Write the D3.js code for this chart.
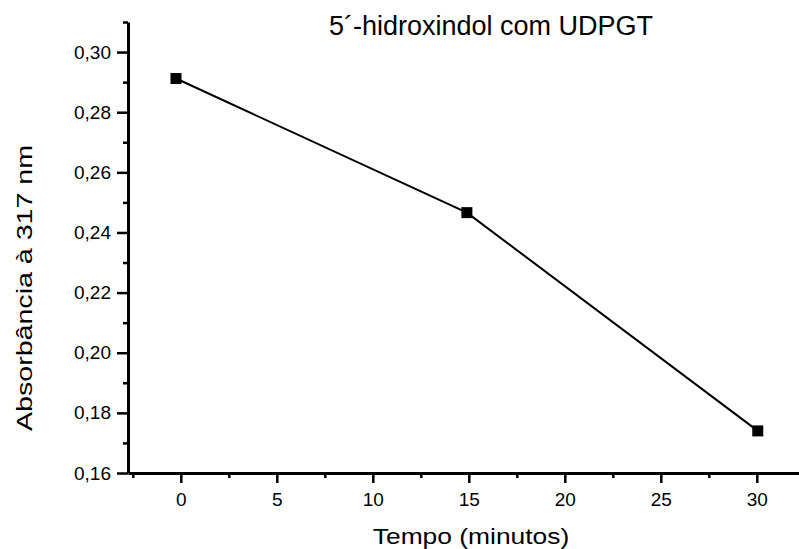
<!DOCTYPE html>
<html>
<head>
<meta charset="utf-8">
<script src="https://cdn.jsdelivr.net/npm/d3@7"></script>
<style>
  body { margin: 0; background: #fff; }
  svg { display: block; font-family: "Liberation Sans", Arial, sans-serif; }
  .axis .domain { stroke: #000; stroke-width: 3px; }
  .tick line { stroke: #000; stroke-width: 2.5px; }
  .tick text { fill: #000; font-size: 19px; font-family: "Liberation Sans", Arial, sans-serif; }
</style>
</head>
<body>
<svg id="chart"></svg>
<script>
const width = 799;
const height = 549;

// data
const tempo = [-0.25, 14.9, 30.05];
const absorbancia = [0.2912, 0.2466, 0.1740];

const xMajor = [0, 5, 10, 15, 20, 25, 30];
const xMinor = [-2.5, 2.5, 7.5, 12.5, 17.5, 22.5, 27.5, 32.5];
const yMajor = [0.16, 0.18, 0.20, 0.22, 0.24, 0.26, 0.28, 0.30];
const yMinor = [0.17, 0.19, 0.21, 0.23, 0.25, 0.27, 0.29, 0.31];

const titulo = "5´-hidroxindol com UDPGT";
const xLabel = "Tempo (minutos)";
const yLabel = "Absorbância à 317 nm";

const points = tempo.map((t, i) => ({ x: t, y: absorbancia[i] }));

const svg = d3.select("#chart")
    .attr("width", width)
    .attr("height", height);

const xScale = d3.scaleLinear()
    .domain([-2.75, 33])
    .range([128, 128 + 35.75 * 19.2]);

const yScale = d3.scaleLinear()
    .domain([0.16, 0.31])
    .range([473, 22]);

const fmt = d => d3.format(".2f")(d).replace(".", ",");

// x axis, major + minor
svg.append("g")
    .attr("class", "axis")
    .attr("transform", `translate(0, ${yScale(0.16)})`)
    .call(d3.axisBottom(xScale).tickValues(xMajor).tickSize(10).tickSizeOuter(0).tickPadding(10).tickFormat(d3.format("d")));

svg.append("g")
    .attr("transform", `translate(0, ${yScale(0.16)})`)
    .call(d3.axisBottom(xScale).tickValues(xMinor).tickSize(5).tickSizeOuter(0).tickFormat(""))
    .select(".domain").remove();

// y axis, major + minor
svg.append("g")
    .attr("class", "axis")
    .attr("transform", `translate(${xScale(-2.75)}, 0)`)
    .call(d3.axisLeft(yScale).tickValues(yMajor).tickSize(11).tickSizeOuter(0).tickPadding(6).tickFormat(fmt));

svg.append("g")
    .attr("transform", `translate(${xScale(-2.75)}, 0)`)
    .call(d3.axisLeft(yScale).tickValues(yMinor).tickSize(5).tickSizeOuter(0).tickFormat(""))
    .select(".domain").remove();

// line
const line = d3.line()
    .x(d => xScale(d.x))
    .y(d => yScale(d.y));

svg.append("path")
    .datum(points)
    .attr("fill", "none")
    .attr("stroke", "#000")
    .attr("stroke-width", 2)
    .attr("d", line);

// markers
svg.selectAll("rect.marker")
    .data(points)
    .enter()
    .append("rect")
    .attr("class", "marker")
    .attr("x", d => xScale(d.x) - 5.5)
    .attr("y", d => yScale(d.y) - 5.5)
    .attr("width", 11)
    .attr("height", 11)
    .attr("fill", "#000");

// texts
svg.append("text")
    .attr("x", 491)
    .attr("y", 35)
    .attr("text-anchor", "middle")
    .style("font-size", "27px")
    .text(titulo);

svg.append("text")
    .attr("transform", "translate(471, 544) scale(1.2, 1)")
    .attr("text-anchor", "middle")
    .style("font-size", "22px")
    .text(xLabel);

svg.append("text")
    .attr("transform", "translate(32, 288) rotate(-90) scale(1.3, 1)")
    .attr("text-anchor", "middle")
    .style("font-size", "22px")
    .text(yLabel);
</script>
</body>
</html>
